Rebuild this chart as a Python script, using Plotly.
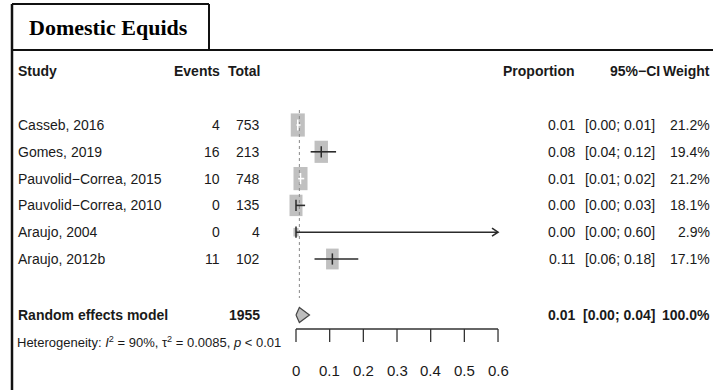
import plotly.graph_objects as go

# ---------------- data ----------------
studies = ["Casseb, 2016", "Gomes, 2019", "Pauvolid\u2212Correa, 2015",
           "Pauvolid\u2212Correa, 2010", "Araujo, 2004", "Araujo, 2012b"]
events = [4, 16, 10, 0, 0, 11]
totals = [753, 213, 748, 135, 4, 102]
proportion = [0.0053, 0.075, 0.0134, 0.0, 0.0, 0.108]
ci_lower = [0.0014, 0.0435, 0.0064, 0.0, 0.0, 0.055]
ci_upper = [0.0135, 0.119, 0.0244, 0.027, 0.602, 0.185]
prop_labels = ["0.01", "0.08", "0.01", "0.00", "0.00", "0.11"]
ci_labels = ["[0.00; 0.01]", "[0.04; 0.12]", "[0.01; 0.02]",
             "[0.00; 0.03]", "[0.00; 0.60]", "[0.06; 0.18]"]
weights = [21.2, 19.4, 21.2, 18.1, 2.9, 17.1]
weight_labels = ["21.2%", "19.4%", "21.2%", "18.1%", "2.9%", "17.1%"]

pooled_label = "Random effects model"
pooled_total = 1955
pooled_est = 0.01
pooled_lower = 0.0
pooled_upper = 0.04
pooled_prop_label = "0.01"
pooled_ci_label = "[0.00; 0.04]"
pooled_weight_label = "100.0%"

axis_ticks = [0, 0.1, 0.2, 0.3, 0.4, 0.5, 0.6]
axis_tick_labels = ["0", "0.1", "0.2", "0.3", "0.4", "0.5", "0.6"]
x_max = 0.6

title = "Domestic Equids"
heterogeneity = ("Heterogeneity: <i>I</i><sup>2</sup> = 90%, \u03c4<sup>2</sup> = 0.0085, "
                 "<i>p</i> &lt; 0.01")

# ---------------- geometry helpers ----------------
W, H = 713, 390
X0_PX = 296.0          # pixel of x = 0
PX_PER_UNIT = 336.7    # pixels per 1.0 proportion
ROW0_PX = 125.0        # pixel of first study row
ROW_PX = 26.8          # pixels per row

def px(xp):
    return xp / W

def py(yp):
    return 1 - yp / H

def row_of(yp):
    return (yp - ROW0_PX) / ROW_PX

x_range = [-X0_PX / PX_PER_UNIT, (W - X0_PX) / PX_PER_UNIT]
y_range = [row_of(H), row_of(0)]

FONT = "Liberation Sans, Arial, sans-serif"
TXT = "#1a1a1a"
SQ = "#c0c0c0"
LINE = "#2b2b2b"

fig = go.Figure()
shapes = []
annotations = []

rows = list(range(len(studies)))
pooled_row = row_of(315)

# squares (weight-sized boxes)
k = 3.05
inside = []
for r, est, w, lo, hi in zip(rows, proportion, weights, ci_lower, ci_upper):
    side = k * w ** 0.5
    hw = side / 2 / PX_PER_UNIT
    hh = side * 1.65 / 2 / ROW_PX
    shapes.append(dict(type="rect", xref="x", yref="y",
                       x0=est - hw, x1=est + hw, y0=r - hh, y1=r + hh,
                       fillcolor=SQ, line=dict(width=0), layer="below"))
    inside.append(lo >= est - hw and hi <= est + hw)

# dotted pooled line
shapes.append(dict(type="line", xref="x", yref="y", x0=pooled_est, x1=pooled_est,
                   y0=row_of(110), y1=row_of(298),
                   line=dict(color="#888888", width=1, dash="dot"), layer="below"))

# CI lines
for color, flag in ((LINE, False), ("white", True)):
    xs, ys = [], []
    for r, lo, hi, ins in zip(rows, ci_lower, ci_upper, inside):
        if ins == flag:
            xs += [lo, min(hi, x_max), None]
            ys += [r, r, None]
    if xs:
        fig.add_trace(go.Scatter(x=xs, y=ys, mode="lines",
                                 line=dict(color=color, width=1.6),
                                 hoverinfo="skip", showlegend=False))

# estimate ticks
fig.add_trace(go.Scatter(
    x=proportion, y=rows, mode="markers",
    marker=dict(symbol="line-ns", size=8,
                line=dict(width=1.5, color=["white" if i else LINE for i in inside])),
    hoverinfo="skip", showlegend=False))

# arrows for CIs beyond axis
for r, hi in zip(rows, ci_upper):
    if hi > x_max:
        dx = 6 / PX_PER_UNIT
        dy = 4 / ROW_PX
        fig.add_trace(go.Scatter(x=[x_max - dx, x_max, x_max - dx],
                                 y=[r - dy, r, r + dy], mode="lines",
                                 line=dict(color=LINE, width=1.6),
                                 hoverinfo="skip", showlegend=False))

# diamond
dh = 7.5 / ROW_PX
fig.add_trace(go.Scatter(
    x=[pooled_lower, pooled_est, pooled_upper, pooled_est, pooled_lower],
    y=[pooled_row, pooled_row - dh, pooled_row, pooled_row + dh, pooled_row],
    mode="lines", fill="toself", fillcolor="#bdbdbd",
    line=dict(color="#444444", width=1.2), hoverinfo="skip", showlegend=False))

# x axis (manual)
ax_y = 329
shapes.append(dict(type="line", xref="x", yref="paper", x0=axis_ticks[0], x1=axis_ticks[-1],
                   y0=py(ax_y), y1=py(ax_y), line=dict(color="#333333", width=1.3)))
for t, lab in zip(axis_ticks, axis_tick_labels):
    shapes.append(dict(type="line", xref="x", yref="paper", x0=t, x1=t,
                       y0=py(ax_y), y1=py(342), line=dict(color="#333333", width=1.3)))
    annotations.append(dict(x=t, y=py(370), xref="x", yref="paper", text=lab,
                            showarrow=False, xanchor="center", yanchor="middle",
                            font=dict(family=FONT, size=15, color=TXT)))

# frame lines
BORDER = "#111111"
shapes.append(dict(type="line", xref="paper", yref="paper", x0=px(12), x1=px(713),
                   y0=py(50), y1=py(50), line=dict(color=BORDER, width=2)))
shapes.append(dict(type="line", xref="paper", yref="paper", x0=px(12), x1=px(12),
                   y0=py(4), y1=py(392), line=dict(color=BORDER, width=2.5)))
shapes.append(dict(type="line", xref="paper", yref="paper", x0=px(12), x1=px(209),
                   y0=py(4), y1=py(4), line=dict(color=BORDER, width=2)))
shapes.append(dict(type="line", xref="paper", yref="paper", x0=px(209), x1=px(209),
                   y0=py(4), y1=py(50), line=dict(color=BORDER, width=2)))

# title
annotations.append(dict(x=px(108), y=py(28), xref="paper", yref="paper", text="<b>" + title + "</b>",
                        showarrow=False, xanchor="center", yanchor="middle",
                        font=dict(family="Liberation Serif, Times New Roman, serif", size=22, color="#000")))

def txt(x, y, s, anchor, size=14, bold=False, yref="y"):
    annotations.append(dict(x=x, y=y, xref="paper", yref=yref,
                            text=("<b>%s</b>" % s) if bold else s,
                            showarrow=False, xanchor=anchor, yanchor="middle",
                            font=dict(family=FONT, size=size, color=TXT)))

# headers
hy = row_of(71)
txt(px(16), hy, "Study", "left", 14, True)
txt(px(222), hy, "Events", "right", 14, True)
txt(px(262), hy, "Total", "right", 14, True)
txt(px(577), hy, "Proportion", "right", 14, True)
txt(px(662), hy, "95%\u2212CI", "right", 14, True)
txt(px(712), hy, "Weight", "right", 14, True)

# study rows
for r, s, e, n, pl, cl, wl in zip(rows, studies, events, totals, prop_labels, ci_labels, weight_labels):
    txt(px(16), r, s, "left")
    txt(px(222), r, str(e), "right")
    txt(px(262), r, str(n), "right")
    txt(px(577), r, pl, "right")
    txt(px(657), r, cl, "right")
    txt(px(712), r, wl, "right")

# pooled row
txt(px(16), pooled_row, pooled_label, "left", 14, True)
txt(px(262), pooled_row, str(pooled_total), "right", 14, True)
txt(px(577), pooled_row, pooled_prop_label, "right", 14, True)
txt(px(657), pooled_row, pooled_ci_label, "right", 14, True)
txt(px(712), pooled_row, pooled_weight_label, "right", 14, True)

txt(px(15), row_of(342), heterogeneity, "left", 13)

fig.update_layout(
    width=W, height=H,
    margin=dict(l=0, r=0, t=0, b=0),
    paper_bgcolor="white", plot_bgcolor="white",
    xaxis=dict(range=x_range, visible=False, fixedrange=True),
    yaxis=dict(range=y_range, visible=False, fixedrange=True),
    shapes=shapes, annotations=annotations, showlegend=False,
)

fig.write_html("out.html",
               config={"displayModeBar": False},
               post_script="document.body.style.margin='0px';document.body.style.overflow='hidden';")
